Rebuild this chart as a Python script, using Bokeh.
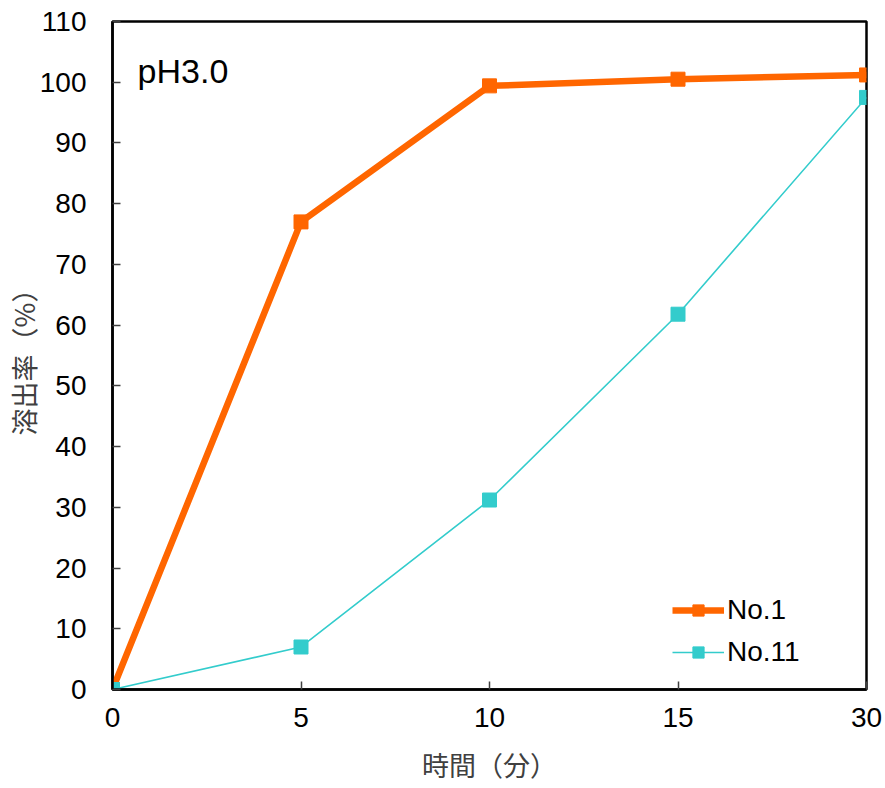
from bokeh.plotting import figure
from bokeh.models import Range1d, FixedTicker, Legend, LegendItem, Label
from bokeh.embed import file_html
from bokeh.resources import INLINE

time_labels = ["0", "5", "10", "15", "30"]
no1 = [0, 77.0, 99.4, 100.5, 101.2]
no11 = [0, 7.0, 31.2, 61.8, 97.5]
x_idx = list(range(len(time_labels)))
y_ticks = list(range(0, 111, 10))

p = figure(width=884, height=786, output_backend="svg", toolbar_location=None,
           x_range=Range1d(0, 4), y_range=Range1d(0, 110),
           min_border_left=105, min_border_right=18, min_border_top=21, min_border_bottom=97)
p.grid.visible = False
p.background_fill_color = "white"
p.border_fill_color = "white"
p.outline_line_color = "black"
p.outline_line_width = 2.5

for ax in (p.xaxis[0], p.yaxis[0]):
    ax.axis_line_color = "black"
    ax.axis_line_width = 2.5
    ax.major_tick_in = 8
    ax.major_tick_out = 0
    ax.minor_tick_line_color = None
    ax.major_tick_line_color = "#404040"
    ax.major_tick_line_width = 1.5
    ax.major_label_text_font = "Liberation Sans"
    ax.major_label_text_font_size = "28px"
    ax.major_label_text_color = "black"
    ax.axis_label_text_font = "Noto Sans CJK JP"
    ax.axis_label_text_font_size = "27px"
    ax.axis_label_text_font_style = "normal"
    ax.axis_label_text_color = "#404040"

p.xaxis.ticker = FixedTicker(ticks=x_idx)
p.xaxis.major_label_overrides = {i: t for i, t in zip(x_idx, time_labels)}
p.xaxis.major_label_standoff = 18
p.xaxis.axis_label = "時間（分）"
p.xaxis.axis_label_standoff = 15

p.yaxis.ticker = FixedTicker(ticks=y_ticks)
p.yaxis.major_label_standoff = 26
p.yaxis.axis_label = "溶出率（%）"
p.yaxis.axis_label_standoff = -6

r1 = p.line(x_idx, no1, line_color="#FF6600", line_width=6.5)
m1 = p.scatter(x_idx, no1, marker="square", size=14, fill_color="#FF6600", line_color="#FF6600")
r2 = p.line(x_idx, no11, line_color="#33CCCC", line_width=1.6)
m2 = p.scatter(x_idx, no11, marker="square", size=14, fill_color="#33CCCC", line_color="#33CCCC")

legend = Legend(items=[LegendItem(label="No.1", renderers=[r1, m1]),
                       LegendItem(label="No.11", renderers=[r2, m2])],
                border_line_color=None, background_fill_alpha=0,
                label_text_font="Liberation Sans", label_text_font_size="28px",
                label_text_color="black",
                glyph_width=52, glyph_height=28, spacing=10, padding=0, margin=0,
                label_standoff=3, location=(560, 21))
p.add_layout(legend)

p.add_layout(Label(x=0.133, y=101.9, text="pH3.0", text_font="Liberation Sans",
                   text_font_size="34px", text_baseline="alphabetic", text_color="black"))

open("out.html", "w").write(file_html(p, INLINE))
